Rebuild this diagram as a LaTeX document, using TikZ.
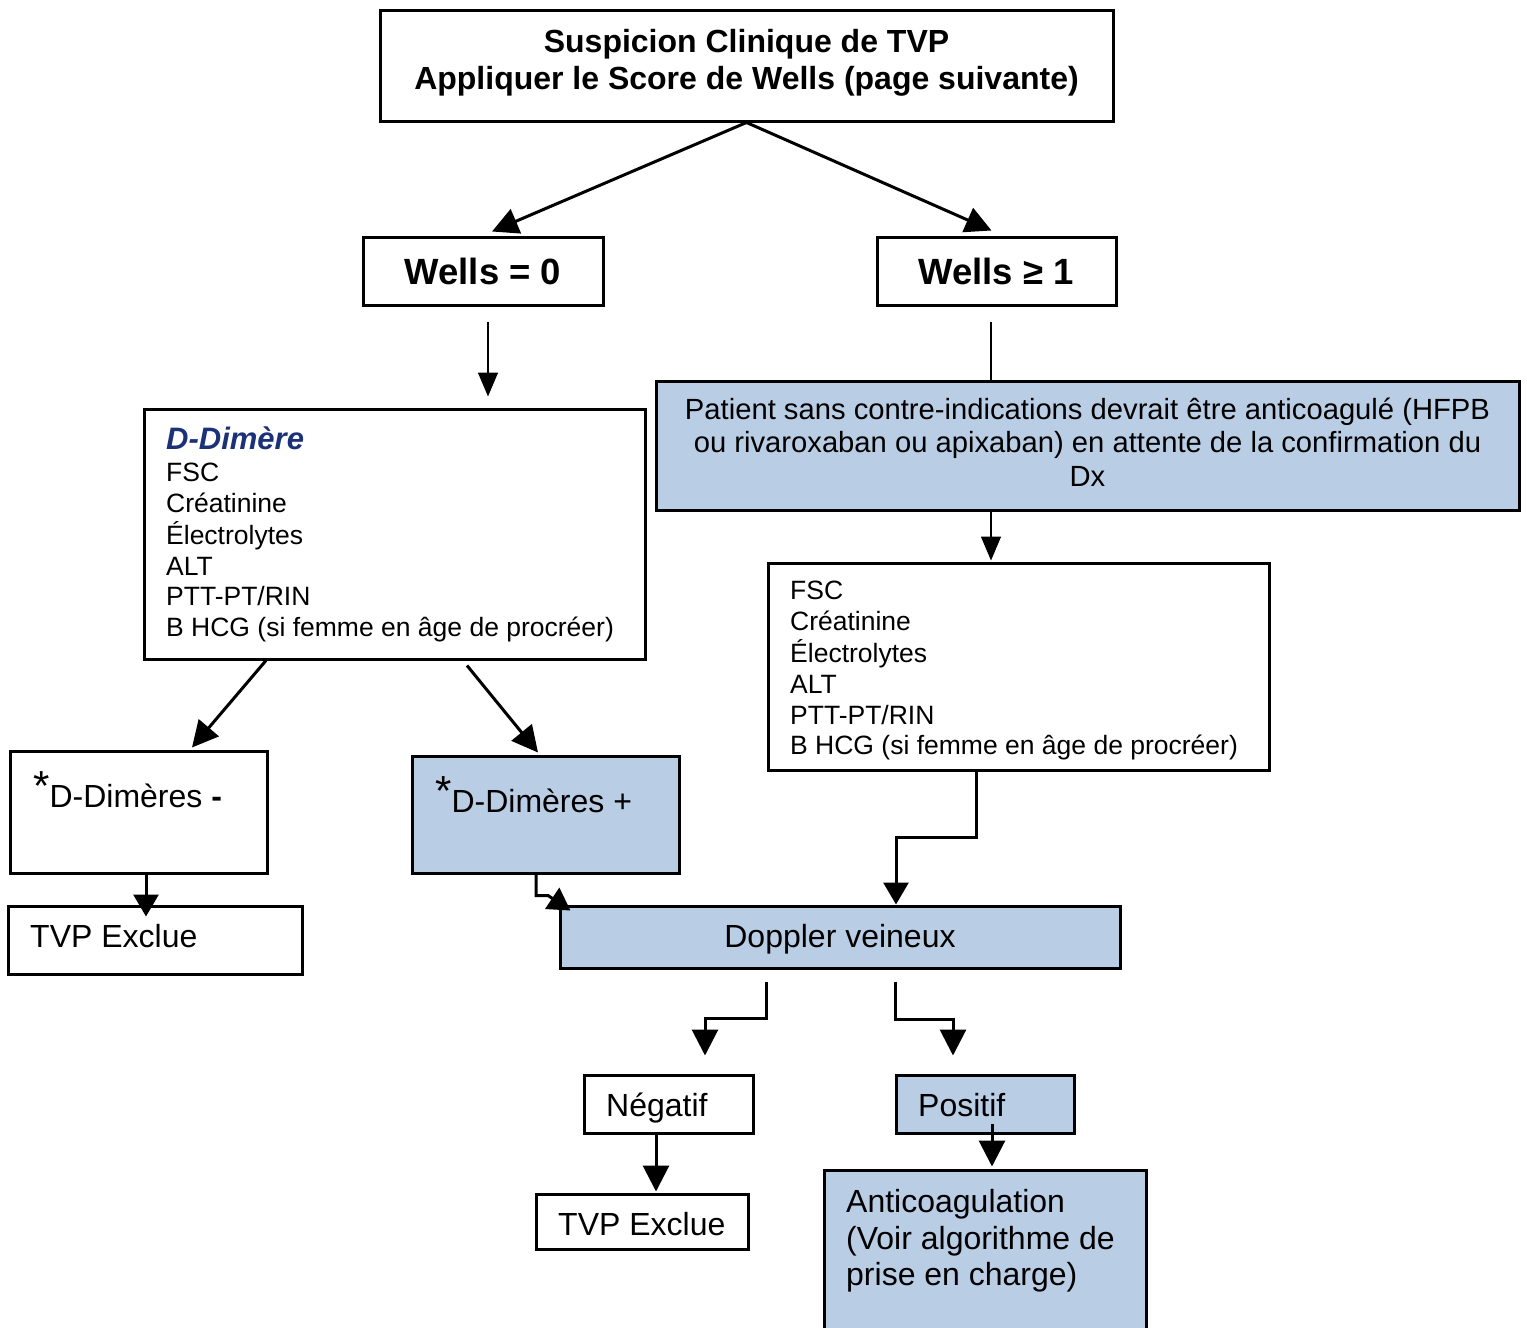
\documentclass[tikz,border=0pt]{standalone}
\usepackage{fontspec}
\setmainfont{Liberation Sans}
\usetikzlibrary{arrows.meta,fit}
\definecolor{boxblue}{HTML}{B9CDE5}
\definecolor{navy}{HTML}{1C3278}
\newcommand{\setfs}[2]{\fontsize{#1}{#2}\selectfont}
\tikzset{
  box/.style={draw=black, line width=3pt, fill=white, inner sep=0pt},
  bluebox/.style={box, fill=boxblue},
  txt/.style={inner sep=0pt, text=black},
  conn/.style={line width=3pt, -{Triangle[width=26pt,length=26pt]}},
  smallconn/.style={line width=3pt, -{Triangle[width=25pt,length=22pt]}},
  thinconn/.style={line width=1.4pt, -{Triangle[width=20pt,length=24pt]}},
  thinline/.style={line width=1.4pt},
}
\begin{document}
\begin{tikzpicture}[x=1pt,y=-1pt]
\useasboundingbox (0,0) rectangle (1527,1328);

% boxes
\node[box, fit={(380,10) (1113,121)}] (top) {};
\node[box, fit={(363,237) (603,305)}] (w0) {};
\node[box, fit={(877,237) (1116,305)}] (w1) {};
\node[box, fit={(144,409) (645,659)}] (ddim) {};
\node[bluebox, fit={(656,381) (1519,510)}] (blue) {};
\node[box, fit={(768,563) (1269,770)}] (fscR) {};
\node[box, fit={(10,751) (267,873)}] (dneg) {};
\node[bluebox, fit={(412,756) (679,873)}] (dpos) {};
\node[box, fit={(8,906) (302,974)}] (tvp1) {};
\node[bluebox, fit={(560,906) (1120,968)}] (dop) {};
\node[box, fit={(584,1075) (753,1133)}] (neg) {};
\node[bluebox, fit={(896,1075) (1074,1133)}] (pos) {};
\node[box, fit={(536,1194) (748,1249)}] (tvp2) {};
\node[bluebox, fit={(824,1170) (1146,1345)}] (anti) {};

% texts
\node[txt, anchor=base] (ttop) at (746.5,52)
  {\setfs{32}{37}\bfseries\begin{tabular}[t]{@{}c@{}}Suspicion Clinique de TVP\\Appliquer le Score de Wells (page suivante)\end{tabular}};
\node[txt, anchor=base] (tw0) at (483,284) {\setfs{36.5}{40}\bfseries Wells = 0};
\node[txt, anchor=base] (tw1) at (996,284) {\setfs{36.5}{40}\bfseries Wells ≥ 1};
\node[txt, anchor=base] (tblue) at (1087.5,419)
  {\setfs{29.2}{33.5}\begin{tabular}[t]{@{}c@{}}Patient sans contre-indications devrait être anticoagulé (HFPB\\ou rivaroxaban ou apixaban) en attente de la confirmation du\\Dx\end{tabular}};
\node[txt, anchor=base west] (tddim) at (166,449)
  {\setfs{26.5}{30.7}\begin{tabular}[t]{@{}l@{}}{\setfs{31}{30.7}\bfseries\itshape\color{navy}D-Dimère}\\[1.8pt]FSC\\Créatinine\\Électrolytes\\ALT\\PTT-PT/RIN\\B HCG (si femme en âge de procréer)\end{tabular}};
\node[txt, anchor=base west] (tfscR) at (790,599.5)
  {\setfs{26.5}{30.8}\begin{tabular}[t]{@{}l@{}}FSC\\Créatinine\\Électrolytes\\ALT\\PTT-PT/RIN\\B HCG (si femme en âge de procréer)\end{tabular}};
\node[txt, anchor=base west] (tdneg) at (33,807)
  {\setfs{32}{37}\raisebox{7pt}{\setfs{42}{44}*}D-Dimères {\bfseries -}};
\node[txt, anchor=base west] (tdpos) at (435,812)
  {\setfs{32}{37}\raisebox{7pt}{\setfs{42}{44}*}D-Dimères +};
\node[txt, anchor=base west] (ttvp1) at (30,947.5) {\setfs{32}{37}TVP Exclue};
\node[txt, anchor=base] (tdop) at (840,947.5) {\setfs{32}{37}Doppler veineux};
\node[txt, anchor=base west] (tneg) at (606,1116.5) {\setfs{32}{37}Négatif};
\node[txt, anchor=base west] (tpos) at (918,1116.5) {\setfs{32}{37}Positif};
\node[txt, anchor=base west] (ttvp2) at (558,1235.5) {\setfs{32}{37}TVP Exclue};
\node[txt, anchor=base west] (tanti) at (846,1212.5)
  {\setfs{32}{36.5}\begin{tabular}[t]{@{}l@{}}Anticoagulation\\(Voir algorithme de\\prise en charge)\end{tabular}};

% connectors
\draw[conn] (top.south) -- ([xshift=9pt,yshift=4pt]w0.north);
\draw[conn] (top.south) -- ([xshift=-5pt,yshift=5pt]w1.north);
\draw[thinconn] ([xshift=5pt,yshift=-15pt]w0.south) -- ([xshift=93.5pt,yshift=11pt]ddim.north);
\draw[thinline] ([xshift=-5.5pt,yshift=-15pt]w1.south) -- ([xshift=-96.5pt]blue.north);
\draw[thinconn] ([xshift=-96.5pt]blue.south) -- ([xshift=-27.5pt,yshift=1pt]fscR.north);
\draw[conn] ([xshift=-128.5pt]ddim.south) -- ([xshift=53.5pt,yshift=2pt]dneg.north);
\draw[conn] ([xshift=72.5pt,yshift=-5pt]ddim.south) -- ([xshift=-7.5pt,yshift=2pt]dpos.north);
\draw[smallconn] ([xshift=7.5pt]dneg.south) -- ([xshift=-9pt,yshift=-12pt]tvp1.north);
\draw[smallconn] ([xshift=-9.5pt]dpos.south) -- ++(0,21) -- ++(12,0) -- ([xshift=12pt,yshift=-6pt]dop.north west);
\draw[smallconn] ([xshift=-42.5pt]fscR.south) -- ++(0,66) -| ([xshift=56pt]dop.north);
\draw[conn] ([xshift=-74pt,yshift=-12pt]dop.south) -- ++(0,37) -| ([xshift=36.5pt,yshift=18pt]neg.north);
\draw[conn] ([xshift=55pt,yshift=-12pt]dop.south) -- ++(0,38) -| ([xshift=-32pt,yshift=18pt]pos.north);
\draw[conn] ([xshift=-12.5pt]neg.south) -- ([xshift=14pt,yshift=1pt]tvp2.north);
\draw[conn] ([xshift=7pt,yshift=11pt]pos.south) -- ([xshift=7pt,yshift=2pt]anti.north);
\end{tikzpicture}
\end{document}
